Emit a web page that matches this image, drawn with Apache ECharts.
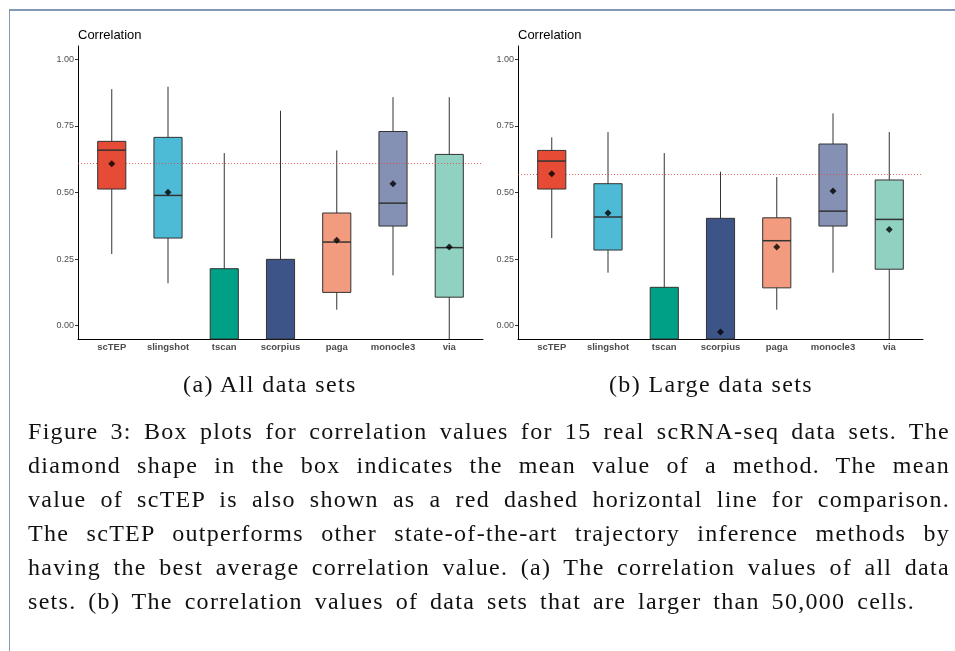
<!DOCTYPE html>
<html>
<head>
<meta charset="utf-8">
<title>Correlation box plots</title>
<script src="https://cdn.jsdelivr.net/npm/echarts@6/dist/echarts.min.js"></script>
<style>
  html, body { margin: 0; padding: 0; background: #fff; }
  #wrap { position: relative; width: 955px; height: 651px; overflow: hidden; }
  #chart { position: absolute; left: 0; top: 0; width: 955px; height: 651px; }
  .frame {
    position: absolute; left: 9px; top: 9px; width: 960px; height: 660px;
    border-top: 2px solid #8199b6; border-left: 1.5px solid #8199b6;
  }
  .sub {
    position: absolute; top: 367px; width: 320px; text-align: center;
    font-family: 'Liberation Serif', serif; font-size: 24px; line-height: 34px;
    letter-spacing: 1.4px; color: #111;
  }
  .cap {
    position: absolute; left: 28px; top: 414px; width: 922px;
    font-family: 'Liberation Serif', serif; font-size: 24px; line-height: 34px;
    letter-spacing: 1.3px; word-spacing: 1px; color: #111;
  }
  .cap div { text-align: justify; text-align-last: justify; white-space: nowrap; }
  .cap div.last { text-align-last: justify; width: 887px; }
</style>
</head>
<body>
<div id="wrap">
  <div id="chart"></div>
  <div class="frame"></div>
  <div class="sub" style="left:110px">(a) All data sets</div>
  <div class="sub" style="left:551px">(b) Large data sets</div>
  <div class="cap">
    <div>Figure 3: Box plots for correlation values for 15 real scRNA-seq data sets. The</div>
    <div>diamond shape in the box indicates the mean value of a method. The mean</div>
    <div>value of scTEP is also shown as a red dashed horizontal line for comparison.</div>
    <div>The scTEP outperforms other state-of-the-art trajectory inference methods by</div>
    <div>having the best average correlation value. (a) The correlation values of all data</div>
    <div class="last">sets. (b) The correlation values of data sets that are larger than 50,000 cells.</div>
  </div>
</div>
<script>
const methods = ['scTEP', 'slingshot', 'tscan', 'scorpius', 'paga', 'monocle3', 'via']
const boxColors = ['#E64B35', '#4DBBD5', '#00A087', '#3C5488', '#F39B7F', '#8491B4', '#91D1C2']
const yTicks = [0, 0.25, 0.5, 0.75, 1]

// [min, q1, median, q3, max] -- parts below the axis are clipped in the plot
const allSetsBox = [
  [0.269, 0.513, 0.659, 0.692, 0.888],
  [0.159, 0.329, 0.489, 0.707, 0.897],
  [-0.55, -0.32, -0.12, 0.214, 0.648],
  [-0.55, -0.30, -0.10, 0.249, 0.807],
  [0.060, 0.125, 0.314, 0.423, 0.658],
  [0.189, 0.374, 0.460, 0.729, 0.858],
  [-0.30, 0.107, 0.293, 0.643, 0.858],
]
const allSetsMean = [0.608, 0.501, -0.09, -0.08, 0.321, 0.533, 0.295]

const largeSetsBox = [
  [0.329, 0.513, 0.618, 0.658, 0.707],
  [0.199, 0.284, 0.408, 0.533, 0.727],
  [-0.55, -0.30, -0.10, 0.144, 0.648],
  [-0.55, -0.25, -0.08, 0.403, 0.578],
  [0.060, 0.142, 0.319, 0.405, 0.558],
  [0.199, 0.374, 0.430, 0.682, 0.797],
  [-0.20, 0.212, 0.399, 0.547, 0.727],
]
const largeSetsMean = [0.570, 0.423, -0.09, -0.024, 0.295, 0.506, 0.361]

const sans = 'Liberation Sans, Arial, sans-serif'

function renderBox(params, api) {
  const i = api.value(0)
  const cs = params.coordSys
  const clampY = y => Math.max(cs.y, Math.min(cs.y + cs.height, y))
  const pLo = api.coord([i, api.value(1)])
  const pQ1 = api.coord([i, api.value(2)])
  const pMed = api.coord([i, api.value(3)])
  const pQ3 = api.coord([i, api.value(4)])
  const pHi = api.coord([i, api.value(5)])
  const halfW = api.size([0.5, 0])[0] / 2
  const cx = pMed[0]
  const children = [{
    type: 'line',
    shape: { x1: cx, y1: clampY(pLo[1]), x2: cx, y2: clampY(pHi[1]) },
    style: { stroke: '#333', lineWidth: 1 },
  }]
  const rect = echarts.graphic.clipRectByRect(
    { x: cx - halfW, y: pQ3[1], width: halfW * 2, height: pQ1[1] - pQ3[1] },
    { x: cs.x, y: cs.y, width: cs.width, height: cs.height }
  )
  if (rect) {
    children.push({
      type: 'rect',
      shape: rect,
      style: { fill: boxColors[i], stroke: '#333', lineWidth: 1 },
    })
  }
  if (pMed[1] <= cs.y + cs.height) {
    children.push({
      type: 'line',
      shape: { x1: cx - halfW, y1: pMed[1], x2: cx + halfW, y2: pMed[1] },
      style: { stroke: '#333', lineWidth: 1.5 },
    })
  }
  return { type: 'group', children }
}

function panelAxes(gridIndex) {
  const xAxis = {
    gridIndex,
    type: 'value',
    min: -0.6,
    max: 6.6,
    splitLine: { show: false },
    axisLine: { show: true, onZero: false, lineStyle: { color: '#000', width: 1 } },
    axisTick: { show: false },
    axisLabel: {
      customValues: methods.map((m, i) => i),
      formatter: v => methods[Math.round(v)],
      fontFamily: sans,
      fontWeight: 'bold',
      fontSize: 9.5,
      color: '#4d4d4d',
      margin: 3,
    },
  }
  const yAxis = {
    gridIndex,
    type: 'value',
    min: -0.05,
    max: 1.05,
    splitLine: { show: false },
    axisLine: { show: true, onZero: false, lineStyle: { color: '#000', width: 1 } },
    axisTick: { show: true, customValues: yTicks, length: 3, lineStyle: { color: '#333' } },
    axisLabel: {
      customValues: yTicks,
      formatter: v => v.toFixed(2),
      fontFamily: sans,
      fontSize: 9,
      color: '#4d4d4d',
      margin: 4,
    },
  }
  return { xAxis, yAxis }
}

function panelSeries(gridIndex, boxes, means) {
  return [
    {
      type: 'custom',
      xAxisIndex: gridIndex,
      yAxisIndex: gridIndex,
      renderItem: renderBox,
      encode: { x: 0, y: [1, 2, 3, 4, 5] },
      data: boxes.map((b, i) => [i, ...b]),
      z: 2,
    },
    {
      type: 'scatter',
      xAxisIndex: gridIndex,
      yAxisIndex: gridIndex,
      symbol: 'diamond',
      symbolSize: 7,
      itemStyle: { color: '#000' },
      data: means.map((m, i) => [i, m]),
      clip: true,
      z: 4,
      markLine: {
        silent: true,
        symbol: ['none', 'none'],
        label: { show: false },
        lineStyle: { color: '#e8413a', type: [1, 2], width: 1, opacity: 0.8 },
        data: [{ yAxis: means[0] }],
        z: 3,
      },
    },
  ]
}

const chart = echarts.init(document.getElementById('chart'))
const left = panelAxes(0)
const right = panelAxes(1)

chart.setOption({
  animation: false,
  title: [
    { text: 'Correlation', left: 78, top: 29, padding: 0,
      textStyle: { fontFamily: sans, fontSize: 13, fontWeight: 'normal', color: '#000' } },
    { text: 'Correlation', left: 518, top: 29, padding: 0,
      textStyle: { fontFamily: sans, fontSize: 13, fontWeight: 'normal', color: '#000' } },
  ],
  grid: [
    { left: 78, top: 46, width: 405, height: 293 },
    { left: 518, top: 46, width: 405, height: 293 },
  ],
  xAxis: [left.xAxis, right.xAxis],
  yAxis: [left.yAxis, right.yAxis],
  series: [
    ...panelSeries(0, allSetsBox, allSetsMean),
    ...panelSeries(1, largeSetsBox, largeSetsMean),
  ],
})
</script>
</body>
</html>
